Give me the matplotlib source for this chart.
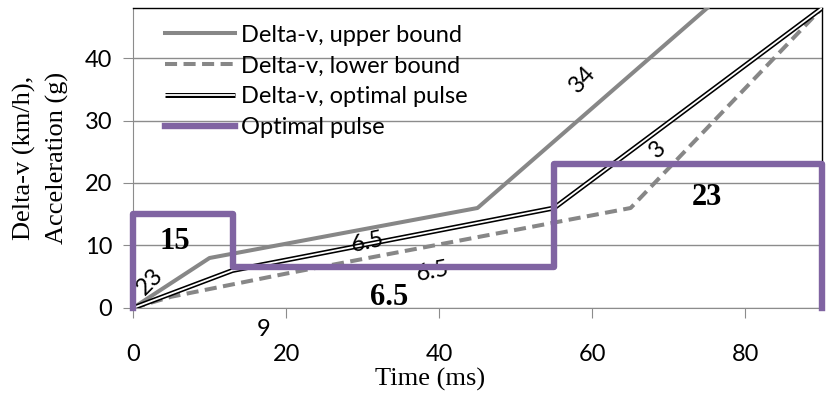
import matplotlib
matplotlib.use("Agg")
import matplotlib.pyplot as plt
from matplotlib.legend_handler import HandlerTuple

# delta-v curves (km/h) vs time (ms)
upper_t = [0, 10, 45, 75]
upper_v = [0, 8, 16, 48]
lower_t = [0, 5, 20, 65, 90]
lower_v = [0, 1.8, 5.5, 16, 48]
opt_t = [0, 13, 55, 90]
opt_v = [0, 6, 16, 48]

# optimal pulse (g)
pulse_t = [0, 0, 13, 13, 55, 55, 90, 90]
pulse_g = [0, 15, 15, 6.5, 6.5, 23, 23, 0]

# slope labels on the curves: (text, x, y, rotation)
slope_labels = [("23", 2.2, 4.2, 45), ("9", 17, -3.5, 0), ("6.5", 30.7, 10.6, 12),
                ("6.5", 39.2, 5.8, 11), ("34", 58.7, 36.5, 47), ("3", 68.5, 25.3, 42)]
# pulse level labels
level_labels = [("15", 5.5, 10.6), ("6.5", 33.5, 1.6), ("23", 75, 17.6)]

grey = "#878787"
purple = "#8064A2"
sans = "Lato"
serif = "Liberation Serif"

fig = plt.figure(figsize=(8.28, 3.95), dpi=100)
ax = fig.add_axes([0.1606, 0.2203, 0.8322, 0.7594])

ax.set_xlim(0, 90)
ax.set_ylim(0, 48)
ax.set_xticks([0, 20, 40, 60, 80])
ax.set_yticks([0, 10, 20, 30, 40])
ax.grid(axis="y", color="#8c8c8c", linewidth=1.0, zorder=0)
ax.tick_params(axis="both", direction="out", length=7, color="#8c8c8c", labelsize=17)
ax.tick_params(axis="x", pad=19)
ax.tick_params(axis="y", pad=8)
for lab in ax.get_xticklabels() + ax.get_yticklabels():
    lab.set_fontfamily(sans)
for s in ["left", "bottom"]:
    ax.spines[s].set_color("#8c8c8c")
for s in ["top", "right"]:
    ax.spines[s].set_color("black")
    ax.spines[s].set_linewidth(1.0)

l_up, = ax.plot(upper_t, upper_v, color=grey, lw=2.9, zorder=3)
l_lo, = ax.plot(lower_t, lower_v, color=grey, lw=2.9, linestyle=(0, (3.0, 1.6)), zorder=3)
l_ob, = ax.plot(opt_t, opt_v, color="black", lw=3.6, zorder=4, solid_capstyle="butt")
l_ow, = ax.plot(opt_t, opt_v, color="white", lw=1.3, zorder=5, solid_capstyle="butt")
l_pu, = ax.plot(pulse_t, pulse_g, color=purple, lw=4.6, zorder=6, clip_on=False)

for txt, x, y, rot in slope_labels:
    ax.text(x, y, txt, fontsize=17, fontfamily=sans, rotation=rot,
            ha="center", va="center", clip_on=False, zorder=5)
for txt, x, y in level_labels:
    ax.text(x, y, txt, fontsize=22, fontfamily=serif, fontweight="bold",
            ha="center", va="center", zorder=7)

ax.legend([l_up, l_lo, (l_ob, l_ow), l_pu],
          ["Delta-v, upper bound", "Delta-v, lower bound",
           "Delta-v, optimal pulse", "Optimal pulse"],
          handler_map={tuple: HandlerTuple(ndivide=1)},
          loc="upper left", bbox_to_anchor=(0.022, 1.0), frameon=False,
          prop={"family": sans, "size": 17}, handlelength=3.0,
          handletextpad=0.25, labelspacing=0.42, borderaxespad=0.3)

ax.set_xlabel("Time (ms)", fontsize=19, fontfamily=serif)
ax.xaxis.set_label_coords(0.431, -0.2)
ax.set_ylabel("Delta-v (km/h),\nAcceleration (g)", fontsize=19, fontfamily=serif,
              linespacing=1.55)
ax.yaxis.set_label_coords(-0.093, 0.5)

fig.savefig("out.png", dpi=100)
